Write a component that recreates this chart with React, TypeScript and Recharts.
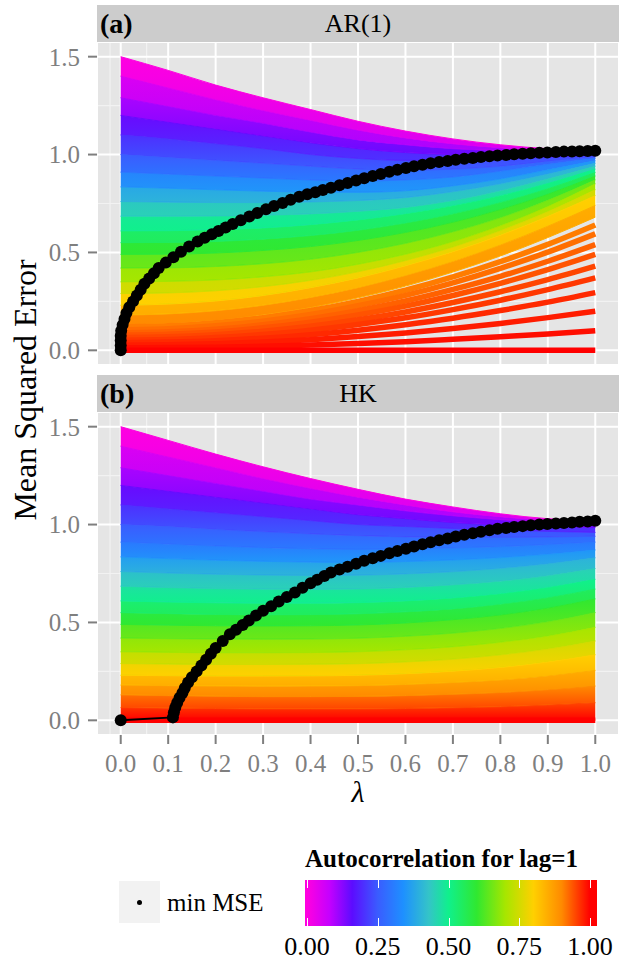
import React from "react";
import { ComposedChart, Area, Line, Scatter, XAxis, YAxis, CartesianGrid } from "recharts";

const FONT = "'Liberation Serif', 'Times New Roman', serif";

/* ------------------------------------------------------------------ */
/* Data                                            */
/* ------------------------------------------------------------------ */

const lambdas = [0, 0.1, 0.2, 0.3, 0.4, 0.5, 0.6, 0.7, 0.8, 0.9, 1.0];

// (a) AR(1): autocorrelation levels drawn as a filled field
const rhoBandsAR = [0, 0.05, 0.1, 0.15, 0.2, 0.25, 0.3, 0.35, 0.4, 0.45, 0.5, 0.55, 0.6, 0.65, 0.7, 0.75, 0.8, 0.85, 0.9];
const mseBandsAR = [
  [1.5, 1.43, 1.355, 1.29, 1.23, 1.17, 1.12, 1.08, 1.05, 1.03, 1.02],
  [1.4, 1.34, 1.28, 1.225, 1.175, 1.125, 1.085, 1.055, 1.035, 1.02, 1.015],
  [1.29, 1.245, 1.2, 1.16, 1.115, 1.075, 1.05, 1.03, 1.02, 1.012, 1.01],
  [1.2, 1.165, 1.13, 1.095, 1.06, 1.03, 1.01, 1.0, 0.998, 1.0, 1.003],
  [1.1, 1.08, 1.055, 1.03, 1.0, 0.98, 0.97, 0.97, 0.975, 0.985, 0.995],
  [1.0, 0.985, 0.97, 0.955, 0.94, 0.925, 0.92, 0.925, 0.94, 0.965, 0.988],
  [0.91, 0.9, 0.89, 0.88, 0.87, 0.865, 0.87, 0.885, 0.915, 0.95, 0.98],
  [0.835, 0.828, 0.82, 0.813, 0.808, 0.807, 0.815, 0.84, 0.875, 0.922, 0.968],
  [0.76, 0.757, 0.755, 0.755, 0.758, 0.765, 0.78, 0.81, 0.85, 0.9, 0.955],
  [0.685, 0.685, 0.686, 0.69, 0.697, 0.71, 0.73, 0.765, 0.815, 0.875, 0.94],
  [0.61, 0.611, 0.616, 0.625, 0.642, 0.666, 0.698, 0.739, 0.79, 0.852, 0.925],
  [0.55, 0.551, 0.556, 0.568, 0.586, 0.613, 0.65, 0.697, 0.755, 0.825, 0.908],
  [0.49, 0.491, 0.497, 0.51, 0.53, 0.561, 0.602, 0.654, 0.719, 0.797, 0.89],
  [0.42, 0.421, 0.428, 0.442, 0.465, 0.5, 0.546, 0.605, 0.677, 0.766, 0.87],
  [0.35, 0.352, 0.359, 0.375, 0.4, 0.439, 0.49, 0.555, 0.636, 0.734, 0.85],
  [0.29, 0.293, 0.304, 0.325, 0.357, 0.401, 0.458, 0.527, 0.611, 0.708, 0.82],
  [0.23, 0.236, 0.252, 0.28, 0.32, 0.37, 0.432, 0.504, 0.588, 0.684, 0.79],
  [0.18, 0.186, 0.202, 0.23, 0.27, 0.32, 0.382, 0.454, 0.538, 0.634, 0.74],
  [0.13, 0.136, 0.152, 0.18, 0.218, 0.268, 0.328, 0.4, 0.482, 0.576, 0.68],
];

// (a) AR(1): autocorrelation close to 1, drawn as separate thick lines (the fan)
const rhoLinesAR = [0.91, 0.92, 0.93, 0.94, 0.95, 0.96, 0.97, 0.98, 0.99, 1.0];
const mseLinesAR = [
  [0.12, 0.125, 0.141, 0.167, 0.203, 0.25, 0.307, 0.375, 0.453, 0.541, 0.64],
  [0.105, 0.11, 0.125, 0.149, 0.183, 0.228, 0.281, 0.345, 0.419, 0.502, 0.595],
  [0.09, 0.095, 0.108, 0.131, 0.162, 0.203, 0.252, 0.311, 0.378, 0.455, 0.54],
  [0.078, 0.082, 0.094, 0.115, 0.144, 0.181, 0.226, 0.28, 0.342, 0.412, 0.49],
  [0.065, 0.069, 0.08, 0.098, 0.123, 0.156, 0.196, 0.244, 0.299, 0.361, 0.43],
  [0.052, 0.055, 0.065, 0.081, 0.103, 0.132, 0.166, 0.208, 0.256, 0.31, 0.37],
  [0.039, 0.042, 0.049, 0.062, 0.08, 0.103, 0.131, 0.164, 0.203, 0.246, 0.295],
  [0.026, 0.028, 0.033, 0.042, 0.054, 0.07, 0.089, 0.111, 0.137, 0.167, 0.2],
  [0.013, 0.014, 0.016, 0.021, 0.027, 0.035, 0.044, 0.056, 0.069, 0.083, 0.1],
  [0, 0, 0, 0, 0, 0, 0, 0, 0, 0, 0],
];

// (b) HK
const rhoBandsHK = [0, 0.05, 0.1, 0.15, 0.2, 0.25, 0.3, 0.35, 0.4, 0.45, 0.5, 0.55, 0.6, 0.65, 0.7, 0.75, 0.8, 0.85, 0.9, 0.95, 1.0];
const mseBandsHK = [
  [1.5, 1.43, 1.36, 1.295, 1.235, 1.18, 1.13, 1.09, 1.055, 1.03, 1.02],
  [1.4, 1.345, 1.29, 1.235, 1.185, 1.14, 1.1, 1.065, 1.04, 1.022, 1.012],
  [1.29, 1.25, 1.21, 1.17, 1.13, 1.1, 1.07, 1.045, 1.025, 1.01, 1.0],
  [1.2, 1.17, 1.14, 1.11, 1.08, 1.05, 1.03, 1.01, 0.998, 0.99, 0.985],
  [1.1, 1.08, 1.06, 1.04, 1.02, 1.0, 0.99, 0.98, 0.972, 0.965, 0.96],
  [1.0, 0.99, 0.975, 0.963, 0.952, 0.943, 0.937, 0.934, 0.934, 0.936, 0.94],
  [0.91, 0.9, 0.89, 0.882, 0.876, 0.873, 0.876, 0.88, 0.887, 0.897, 0.91],
  [0.835, 0.826, 0.818, 0.812, 0.808, 0.806, 0.811, 0.819, 0.831, 0.848, 0.87],
  [0.76, 0.752, 0.746, 0.742, 0.74, 0.741, 0.748, 0.759, 0.776, 0.799, 0.83],
  [0.685, 0.678, 0.673, 0.67, 0.669, 0.671, 0.679, 0.692, 0.711, 0.738, 0.775],
  [0.61, 0.604, 0.6, 0.598, 0.598, 0.601, 0.61, 0.625, 0.647, 0.678, 0.72],
  [0.55, 0.545, 0.541, 0.539, 0.54, 0.544, 0.554, 0.569, 0.593, 0.626, 0.67],
  [0.49, 0.486, 0.483, 0.482, 0.483, 0.487, 0.497, 0.514, 0.538, 0.573, 0.62],
  [0.42, 0.417, 0.415, 0.414, 0.415, 0.419, 0.429, 0.445, 0.469, 0.503, 0.55],
  [0.35, 0.347, 0.345, 0.345, 0.346, 0.35, 0.36, 0.375, 0.398, 0.43, 0.475],
  [0.29, 0.287, 0.285, 0.285, 0.286, 0.289, 0.298, 0.312, 0.334, 0.364, 0.405],
  [0.23, 0.228, 0.226, 0.226, 0.227, 0.23, 0.238, 0.251, 0.27, 0.298, 0.335],
  [0.18, 0.177, 0.175, 0.174, 0.175, 0.177, 0.183, 0.193, 0.206, 0.227, 0.255],
  [0.13, 0.126, 0.123, 0.121, 0.121, 0.122, 0.126, 0.133, 0.142, 0.156, 0.175],
  [0.065, 0.062, 0.06, 0.058, 0.058, 0.058, 0.06, 0.064, 0.069, 0.078, 0.09],
  [0, 0, 0, 0, 0, 0, 0, 0, 0, 0, 0],
];
const rhoLinesHK = [1.0];
const mseLinesHK = [[0, 0, 0, 0, 0, 0, 0, 0, 0, 0, 0]];

// min MSE points
const minLamAR = [
  0, 0, 0, 0, 0.001, 0.004, 0.008, 0.012, 0.018, 0.026, 0.034, 0.042, 0.05, 0.06, 0.07, 0.08,
  0.095, 0.111, 0.127, 0.144, 0.162, 0.177, 0.192, 0.206, 0.221, 0.236, 0.253, 0.271, 0.288,
  0.306, 0.323, 0.341, 0.358, 0.376, 0.393, 0.41, 0.426, 0.443, 0.461, 0.478, 0.496, 0.513,
  0.531, 0.548, 0.566, 0.583, 0.601, 0.618, 0.636, 0.653, 0.671, 0.689, 0.706, 0.724, 0.742,
  0.759, 0.777, 0.794, 0.812, 0.829, 0.847, 0.864, 0.882, 0.899, 0.917, 0.934, 0.951, 0.967,
  0.984, 1.0,
];
const minMseAR = [
  0, 0.025, 0.05, 0.075, 0.1, 0.13, 0.16, 0.19, 0.22, 0.25, 0.28, 0.31, 0.34, 0.367, 0.394, 0.42,
  0.448, 0.476, 0.503, 0.53, 0.556, 0.575, 0.593, 0.61, 0.628, 0.645, 0.664, 0.683, 0.701,
  0.72, 0.737, 0.753, 0.769, 0.785, 0.797, 0.808, 0.819, 0.83, 0.843, 0.855, 0.867, 0.879,
  0.89, 0.901, 0.912, 0.922, 0.931, 0.94, 0.948, 0.956, 0.962, 0.967, 0.973, 0.978, 0.982,
  0.987, 0.991, 0.995, 0.998, 1.001, 1.004, 1.007, 1.009, 1.011, 1.013, 1.015, 1.016, 1.017,
  1.018, 1.019,
];
const minLamHK = [
  0, 0.11, 0.112, 0.115, 0.119, 0.124, 0.13, 0.135, 0.142, 0.15, 0.16, 0.17, 0.18, 0.19, 0.2,
  0.215, 0.23, 0.243, 0.257, 0.27, 0.285, 0.3, 0.317, 0.333, 0.35, 0.367, 0.383, 0.4, 0.414,
  0.429, 0.443, 0.461, 0.478, 0.496, 0.513, 0.531, 0.548, 0.566, 0.583, 0.601, 0.618, 0.636,
  0.653, 0.671, 0.689, 0.706, 0.724, 0.742, 0.759, 0.777, 0.794, 0.812, 0.829, 0.847, 0.864,
  0.882, 0.899, 0.917, 0.934, 0.951, 0.967, 0.984, 1.0,
];
const minMseHK = [
  0, 0.015, 0.04, 0.065, 0.09, 0.115, 0.14, 0.165, 0.193, 0.22, 0.25, 0.28, 0.31, 0.34, 0.37,
  0.405, 0.44, 0.463, 0.487, 0.51, 0.535, 0.56, 0.583, 0.607, 0.63, 0.653, 0.677, 0.7, 0.718,
  0.737, 0.755, 0.77, 0.785, 0.8, 0.815, 0.828, 0.84, 0.853, 0.865, 0.876, 0.888, 0.899, 0.91,
  0.92, 0.929, 0.939, 0.948, 0.956, 0.963, 0.971, 0.978, 0.983, 0.988, 0.992, 0.997, 1.0,
  1.003, 1.005, 1.008, 1.011, 1.014, 1.016, 1.019,
];

const xTicks = [0, 0.1, 0.2, 0.3, 0.4, 0.5, 0.6, 0.7, 0.8, 0.9, 1.0];
const xMinorTicks = [0.05, 0.15, 0.25, 0.35, 0.45, 0.55, 0.65, 0.75, 0.85, 0.95];
const yTicks = [0, 0.5, 1.0, 1.5];
const yMinorTicks = [0.25, 0.75, 1.25];
const legendTicks = [0, 0.25, 0.5, 0.75, 1.0];

/* ------------------------------------------------------------------ */
/* Colour scale                                                        */
/* ------------------------------------------------------------------ */

const colorStops: [number, string][] = [
  [0.0, "#FF00E0"],
  [0.08, "#C400FF"],
  [0.16, "#5C0CFF"],
  [0.25, "#3A5CFF"],
  [0.34, "#1E90FF"],
  [0.43, "#34C4C8"],
  [0.5, "#10F08C"],
  [0.6, "#30E830"],
  [0.7, "#A6E600"],
  [0.8, "#FFD000"],
  [0.9, "#FF8A00"],
  [1.0, "#FF0000"],
];

function hexRgb(h: string) {
  return [1, 3, 5].map((i) => parseInt(h.slice(i, i + 2), 16));
}

function colorAt(r: number) {
  for (let i = 0; i < colorStops.length - 1; i++) {
    const [r0, c0] = colorStops[i];
    const [r1, c1] = colorStops[i + 1];
    if (r <= r1 || i === colorStops.length - 2) {
      const t = Math.max(0, Math.min(1, (r - r0) / (r1 - r0)));
      const a = hexRgb(c0);
      const b = hexRgb(c1);
      const c = a.map((v, k) => Math.round(v + (b[k] - v) * t));
      return `rgb(${c[0]},${c[1]},${c[2]})`;
    }
  }
  return colorStops[colorStops.length - 1][1];
}

/* ------------------------------------------------------------------ */
/* One facet                                                           */
/* ------------------------------------------------------------------ */

interface PanelProps {
  prefix: string;
  bandRhos: number[];
  bands: number[][];
  lineRhos: number[];
  lines: number[][];
  minLam: number[];
  minMse: number[];
  showX: boolean;
  height: number;
  bottom: number;
}

function Panel({ prefix, bandRhos, bands, lineRhos, lines, minLam, minMse, showX, height, bottom }: PanelProps) {
  const rows = lambdas.map((lam, j) => {
    const row: Record<string, any> = { lam };
    for (let i = 0; i < bandRhos.length - 1; i++) row[`b${i}`] = [bands[i + 1][j], bands[i][j]];
    lineRhos.forEach((_, i) => (row[`l${i}`] = lines[i][j]));
    return row;
  });
  const dots = minLam.map((lam, i) => ({ lam, mse: minMse[i] }));
  const tickStyle = { fill: "#7F7F7F", fontSize: 25, fontFamily: FONT };

  return (
    <ComposedChart width={639} height={height} data={rows} margin={{ top: 42, right: 20, bottom, left: 0 }}>
      <defs>
        {bandRhos.slice(0, -1).map((r, i) => (
          <linearGradient key={i} id={`${prefix}g${i}`} x1="0" y1="0" x2="0" y2="1">
            <stop offset="0%" stopColor={colorAt(r)} />
            <stop offset="100%" stopColor={colorAt(bandRhos[i + 1])} />
          </linearGradient>
        ))}
      </defs>
      <XAxis xAxisId="minor" type="number" domain={[-0.05, 1.05]} ticks={xMinorTicks} hide allowDataOverflow />
      <YAxis yAxisId="minor" type="number" domain={[-0.075, 1.575]} ticks={yMinorTicks} hide allowDataOverflow />
      <CartesianGrid xAxisId="minor" yAxisId="minor" stroke="#F2F2F2" strokeWidth={1.2} fill="#E5E5E5" fillOpacity={1} />
      <CartesianGrid stroke="#FFFFFF" strokeWidth={2} />
      <XAxis
        dataKey="lam"
        type="number"
        domain={[-0.05, 1.05]}
        ticks={xTicks}
        interval={0}
        allowDataOverflow
        hide={!showX}
        height={showX ? 65 : 0}
        axisLine={false}
        tickSize={9}
        tickMargin={10}
        tickLine={{ stroke: "#7F7F7F", strokeWidth: 2 }}
        tick={tickStyle}
        tickFormatter={(v: number) => v.toFixed(1)}
      />
      <YAxis
        type="number"
        domain={[-0.075, 1.575]}
        ticks={yTicks}
        interval={0}
        allowDataOverflow
        width={97}
        axisLine={false}
        tickSize={9}
        tickMargin={8}
        tickLine={{ stroke: "#7F7F7F", strokeWidth: 2 }}
        tick={tickStyle}
        tickFormatter={(v: number) => v.toFixed(1)}
      />
      {bandRhos.slice(0, -1).map((r, i) => (
        <Area
          key={`b${i}`}
          dataKey={`b${i}`}
          type="monotone"
          fill={`url(#${prefix}g${i})`}
          fillOpacity={1}
          stroke={colorAt(r)}
          strokeWidth={1}
          dot={false}
          activeDot={false}
          isAnimationActive={false}
        />
      ))}
      {lineRhos.map((r, i) => (
        <Line
          key={`l${i}`}
          dataKey={`l${i}`}
          type="monotone"
          stroke={colorAt(r)}
          strokeWidth={5.5}
          dot={false}
          activeDot={false}
          isAnimationActive={false}
        />
      ))}
      <Scatter
        data={dots}
        dataKey="mse"
        line={{ stroke: "#000", strokeWidth: 2 }}
        shape={(p: any) => <circle cx={p.cx} cy={p.cy} r={6} fill="#000" />}
        isAnimationActive={false}
      />
    </ComposedChart>
  );
}

/* ------------------------------------------------------------------ */

function Strip({ top, tag, title }: { top: number; tag: string; title: string }) {
  return (
    <div style={{ position: "absolute", left: 97, top, width: 522, height: 37, background: "#CCCCCC" }}>
      <div style={{ position: "absolute", left: 3, top: 0, lineHeight: "37px", fontSize: 28, fontWeight: "bold" }}>{tag}</div>
      <div style={{ position: "absolute", left: 0, width: 522, top: 0, lineHeight: "37px", fontSize: 26, textAlign: "center" }}>
        {title}
      </div>
    </div>
  );
}

export default function App() {
  const barLeft = 305;
  const barWidth = 292;
  const pos = (r: number) => 2 + r * 283;
  const gradient = `linear-gradient(to right, ${colorStops
    .map(([r, c]) => `${c} ${pos(r)}px`)
    .join(", ")})`;

  return (
    <div style={{ position: "absolute", left: 0, top: 0, width: 639, height: 962, background: "#FFFFFF", fontFamily: FONT, color: "#000" }}>
      <div style={{ position: "absolute", left: 0, top: 0 }}>
        <Panel prefix="a" bandRhos={rhoBandsAR} bands={mseBandsAR} lineRhos={rhoLinesAR} lines={mseLinesAR}
          minLam={minLamAR} minMse={minMseAR} showX={false} height={370} bottom={5} />
      </div>
      <div style={{ position: "absolute", left: 0, top: 370 }}>
        <Panel prefix="b" bandRhos={rhoBandsHK} bands={mseBandsHK} lineRhos={rhoLinesHK} lines={mseLinesHK}
          minLam={minLamHK} minMse={minMseHK} showX={true} height={430} bottom={0} />
      </div>
      <Strip top={5} tag="(a)" title="AR(1)" />
      <Strip top={375} tag="(b)" title="HK" />

      <div style={{ position: "absolute", left: 25, top: 390, transform: "translate(-50%, -50%) rotate(-90deg)", whiteSpace: "nowrap", fontSize: 32, lineHeight: 1 }}>
        Mean Squared Error
      </div>
      <div style={{ position: "absolute", left: 358, top: 792, transform: "translate(-50%, -50%)", fontSize: 30, lineHeight: "22px", fontStyle: "italic" }}>
        λ
      </div>

      {/* legend: min MSE key */}
      <div style={{ position: "absolute", left: 119, top: 881, width: 41, height: 42, background: "#F2F2F2" }}>
        <div style={{ position: "absolute", left: 18, top: 19, width: 5, height: 5, borderRadius: 3, background: "#000" }} />
      </div>
      <div style={{ position: "absolute", left: 167, top: 903, transform: "translateY(-50%)", fontSize: 25, whiteSpace: "nowrap" }}>
        min MSE
      </div>

      {/* legend: colour bar */}
      <div style={{ position: "absolute", left: barLeft, top: 845, fontSize: 25, fontWeight: "bold", whiteSpace: "nowrap" }}>
        Autocorrelation for lag=1
      </div>
      <div style={{ position: "absolute", left: barLeft, top: 880, width: barWidth, height: 46, background: gradient }}>
        {legendTicks.map((t) => (
          <React.Fragment key={t}>
            <div style={{ position: "absolute", left: pos(t), top: 0, width: 1, height: 8, background: "#FFFFFF" }} />
            <div style={{ position: "absolute", left: pos(t), top: 38, width: 1, height: 8, background: "#FFFFFF" }} />
          </React.Fragment>
        ))}
      </div>
      {legendTicks.map((t) => (
        <div key={t} style={{ position: "absolute", left: barLeft + pos(t), top: 947, transform: "translate(-50%, -50%)", fontSize: 26, whiteSpace: "nowrap" }}>
          {t.toFixed(2)}
        </div>
      ))}
    </div>
  );
}
